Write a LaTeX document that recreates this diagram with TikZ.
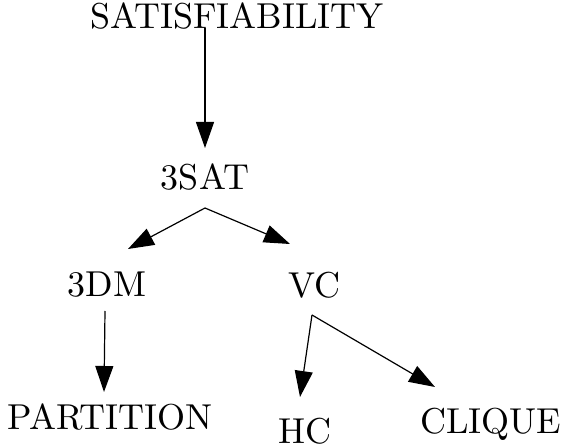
\documentclass[tikz,border=0pt]{standalone}
\usepackage{fontspec}
\setmainfont{lmroman10-regular.otf}
\usetikzlibrary{arrows.meta}
\begin{document}
\begin{tikzpicture}[x=1pt,y=-1pt,
  lbl/.style={anchor=base,inner sep=0pt,font=\fontsize{36}{40}\selectfont},
  conn/.style={line width=1.2pt,-{Triangle[length=26pt,width=18pt]}}]
\useasboundingbox (0,0) rectangle (568,446);
\node[lbl] (sat) at (237,29) {SATISFIABILITY};
\node[lbl] (tsat) at (205,190) {3SAT};
\node[lbl] (tdm) at (107,297) {3DM};
\node[lbl] (vc) at (314,298) {VC};
\node[lbl] (part) at (110,429) {PARTITION};
\node[lbl] (hc) at (305,443) {HC};
\node[lbl] (clique) at (491,434) {CLIQUE};
\coordinate (satout) at (205,28);
\coordinate (satin) at (205,148);
\coordinate (tsatout) at (205,208);
\coordinate (tdmin) at (128,249);
\coordinate (vcin) at (290,244);
\coordinate (tdmout) at (105,311);
\coordinate (partin) at (104,392);
\coordinate (vcout) at (312,315);
\coordinate (hcin) at (300,397);
\coordinate (cliquein) at (435,387);
\draw[conn] (satout) -- (satin);
\draw[conn] (tsatout) -- (tdmin);
\draw[conn] (tsatout) -- (vcin);
\draw[conn] (tdmout) -- (partin);
\draw[conn] (vcout) -- (hcin);
\draw[conn] (vcout) -- (cliquein);
\end{tikzpicture}
\end{document}
